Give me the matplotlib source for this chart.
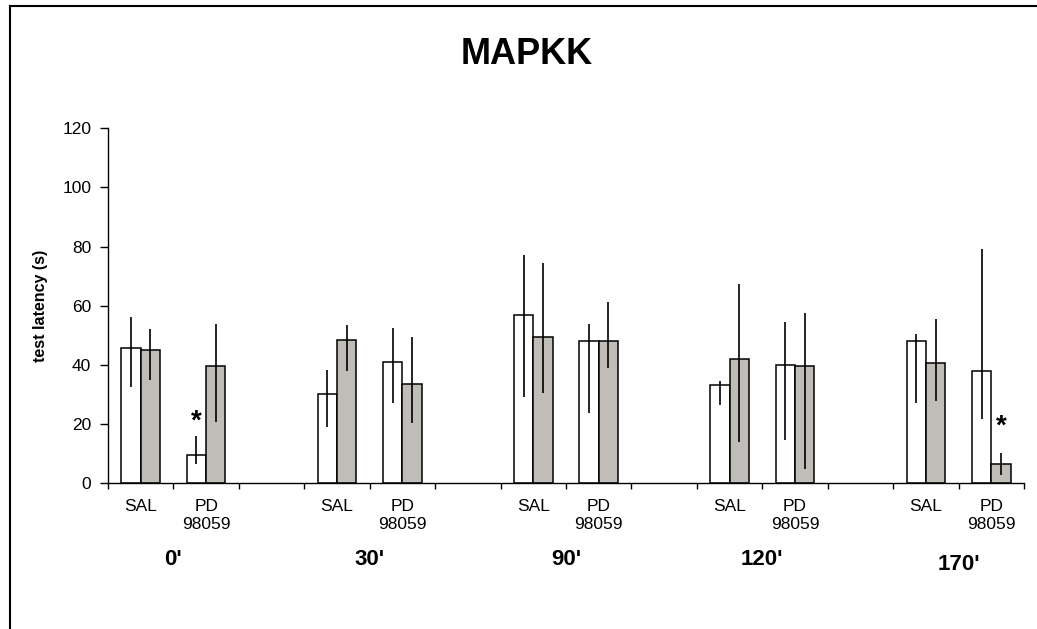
import numpy as np
import matplotlib.pyplot as plt
from matplotlib.lines import Line2D

plt.rcParams['font.family'] = ['Liberation Sans', 'DejaVu Sans']

# time points and treatments
times = ["0'", "30'", "90'", "120'", "170'"]
treatments = ["SAL", "PD\n98059"]

# white bars (SAL, PD per time point)
white_vals = [45.9, 9.5, 30.2, 41.0, 56.9, 48.0, 33.2, 40.1, 48.1, 38.0]
white_lo = [32.6, 6.4, 19.1, 27.0, 29.3, 23.6, 26.5, 14.6, 27.0, 21.6]
white_hi = [56.3, 16.0, 38.3, 52.5, 77.1, 54.0, 34.7, 54.5, 50.4, 79.2]

# grey bars
grey_vals = [45.0, 39.6, 48.4, 33.7, 49.4, 48.0, 42.1, 39.5, 40.5, 6.5]
grey_lo = [34.9, 20.6, 37.9, 20.3, 30.4, 38.9, 14.1, 4.7, 27.9, 2.8]
grey_hi = [52.0, 54.0, 53.4, 49.5, 74.3, 61.4, 67.3, 57.4, 55.4, 10.1]

# significance marks: (bar index, which series, height)
stars = [(1, 'white', 21.0), (9, 'grey', 19.3)]

# category positions: two per time point, then a blank slot
pos = []
for g in range(len(times)):
    pos += [g * 3, g * 3 + 1]
pos = np.array(pos)
n_cat = pos[-1] + 1

w = 0.295
xw = pos - w / 2
xg = pos + w / 2

fig = plt.figure(figsize=(10.37, 6.29), dpi=100)
ax = fig.add_axes([108 / 1037, 1 - 483.3 / 629, 916 / 1037, 355 / 629])

ax.bar(xw, white_vals, w, color='white', edgecolor='black', linewidth=1.1, zorder=2)
ax.bar(xg, grey_vals, w, color='#c0bdb8', edgecolor='black', linewidth=1.1, zorder=2)

wv = np.array(white_vals)
gv = np.array(grey_vals)
ax.errorbar(xw, wv, yerr=[wv - np.array(white_lo), np.array(white_hi) - wv],
            fmt='none', ecolor='black', elinewidth=1.2, capsize=0, zorder=3)
ax.errorbar(xg, gv, yerr=[gv - np.array(grey_lo), np.array(grey_hi) - gv],
            fmt='none', ecolor='black', elinewidth=1.2, capsize=0, zorder=3)

for i, which, h in stars:
    x = xw[i] if which == 'white' else xg[i]
    ax.text(x, h, '*', ha='center', va='center', fontsize=20, fontweight='bold')

ax.set_xlim(-0.5, n_cat - 0.5)
ax.set_ylim(0, 120)
ax.set_yticks(np.arange(0, 121, 20))
ax.tick_params(axis='y', direction='out', length=6, width=1, labelsize=12.5, pad=6)

ax.set_xticks(pos)
ax.set_xticklabels(treatments * len(times), fontsize=12.5, linespacing=1.25)
ax.tick_params(axis='x', which='major', length=0, pad=11)
ax.set_xticks(np.arange(-0.5, n_cat, 1), minor=True)
ax.tick_params(axis='x', which='minor', direction='out', length=4, width=1)

for s in ['top', 'right']:
    ax.spines[s].set_visible(False)
for s in ['left', 'bottom']:
    ax.spines[s].set_linewidth(1)

ax.set_ylabel('test latency (s)', fontsize=11.5, fontweight='bold', labelpad=10)

for g, t in enumerate(times):
    yy = -0.23 if g == len(times) - 1 else -0.216
    ax.text(g * 3 + 0.5, yy, t, transform=ax.get_xaxis_transform(),
            ha='center', va='center', fontsize=16, fontweight='bold')

fig.text(527 / 1037, 1 - 55 / 629, 'MAPKK', ha='center', va='center',
         fontsize=26, fontweight='bold')

# outer frame (partly cropped in the original)
fig.add_artist(Line2D([10 / 1037, 10 / 1037], [0, 1 - 6 / 629], color='black',
                      linewidth=1.5, transform=fig.transFigure))
fig.add_artist(Line2D([10 / 1037, 1], [1 - 6 / 629, 1 - 6 / 629], color='black',
                      linewidth=1.5, transform=fig.transFigure))

fig.savefig('out.png', dpi=100)
